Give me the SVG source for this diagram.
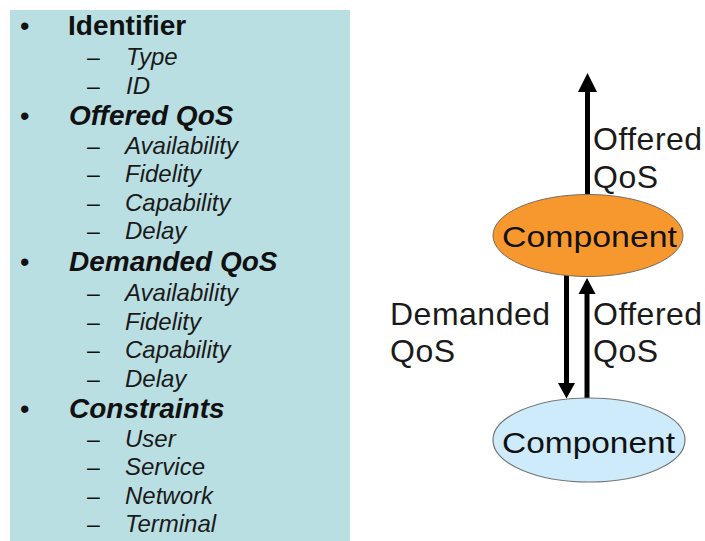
<svg xmlns="http://www.w3.org/2000/svg" width="705" height="541" viewBox="0 0 705 541">
<style>
text{font-family:"Liberation Sans",Arial,sans-serif;fill:#111}
.h{font-size:28px;font-weight:bold}
.hi{font-size:28px;font-weight:bold;font-style:italic}
.b{font-size:27px}
.d{font-size:23px}
.s{font-size:24px;font-style:italic;fill:#1a1a1a}
.lbl{font-size:32px;letter-spacing:0.5px;fill:#1a1a1a}
.comp{font-size:29px;fill:#111}
.conn{stroke:#000;stroke-width:5;fill:none}
.head{fill:#000}
</style>
<rect id="panel" x="10" y="10" width="340" height="531" fill="#BADFE3"/>
<g id="list">
  <text class="b" x="20" y="35">•</text><text class="h" x="68" y="35">Identifier</text>
  <text class="d" x="87" y="65">–</text><text class="s" x="126" y="65">Type</text>
  <text class="d" x="87" y="93.5">–</text><text class="s" x="126" y="93.5">ID</text>
  <text class="b" x="20" y="124.5">•</text><text class="hi" x="69" y="124.5">Offered QoS</text>
  <text class="d" x="87" y="153.5">–</text><text class="s" x="125" y="153.5">Availability</text>
  <text class="d" x="87" y="182">–</text><text class="s" x="125" y="182">Fidelity</text>
  <text class="d" x="87" y="210.5">–</text><text class="s" x="125" y="210.5">Capability</text>
  <text class="d" x="87" y="239">–</text><text class="s" x="125" y="239">Delay</text>
  <text class="b" x="20" y="271">•</text><text class="hi" x="69" y="271">Demanded QoS</text>
  <text class="d" x="87" y="301">–</text><text class="s" x="125" y="301">Availability</text>
  <text class="d" x="87" y="329.5">–</text><text class="s" x="125" y="329.5">Fidelity</text>
  <text class="d" x="87" y="358">–</text><text class="s" x="125" y="358">Capability</text>
  <text class="d" x="87" y="386.5">–</text><text class="s" x="125" y="386.5">Delay</text>
  <text class="b" x="20" y="417.5">•</text><text class="hi" x="69" y="417.5">Constraints</text>
  <text class="d" x="87" y="446.5">–</text><text class="s" x="125" y="446.5">User</text>
  <text class="d" x="87" y="475">–</text><text class="s" x="125" y="475">Service</text>
  <text class="d" x="87" y="503.5">–</text><text class="s" x="125" y="503.5">Network</text>
  <text class="d" x="87" y="532">–</text><text class="s" x="125" y="532">Terminal</text>
</g>
<g id="connectors">
  <line class="conn" x1="587.5" y1="195" x2="587.5" y2="88"/>
  <polygon class="head" points="587.5,73 597,92 578,92"/>
  <line class="conn" x1="566.5" y1="275" x2="566.5" y2="386"/>
  <polygon class="head" points="566.5,398.5 575,383 558,383"/>
  <line class="conn" x1="587" y1="398" x2="587" y2="290"/>
  <polygon class="head" points="587,278 595.5,294 578.5,294"/>
</g>
<g id="comp-top">
  <ellipse cx="588" cy="235.5" rx="95" ry="41" fill="#F7982F" stroke="#7a6a5a" stroke-width="1"/>
  <text class="comp" x="502" y="246.5" textLength="175" lengthAdjust="spacingAndGlyphs">Component</text>
</g>
<g id="comp-bottom">
  <ellipse cx="589" cy="440" rx="96" ry="42" fill="#CDEBFA" stroke="#777" stroke-width="1.2"/>
  <text class="comp" x="502" y="453" textLength="173" lengthAdjust="spacingAndGlyphs">Component</text>
</g>
<g id="labels">
  <text class="lbl" x="593" y="150">Offered</text>
  <text class="lbl" x="593" y="188">QoS</text>
  <text class="lbl" x="390" y="325">Demanded</text>
  <text class="lbl" x="390" y="362">QoS</text>
  <text class="lbl" x="593" y="325">Offered</text>
  <text class="lbl" x="593" y="362">QoS</text>
</g>
</svg>
